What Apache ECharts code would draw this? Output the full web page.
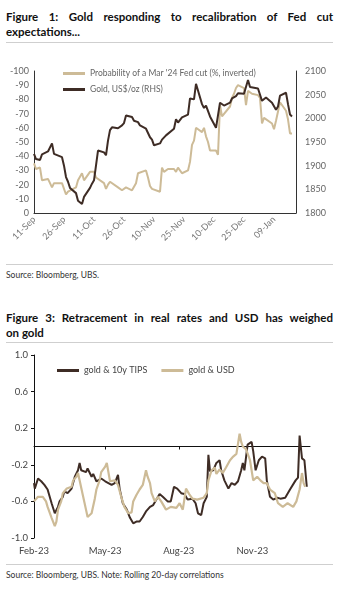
<!DOCTYPE html>
<html><head><meta charset="utf-8">
<script src="https://cdn.jsdelivr.net/npm/echarts@6/dist/echarts.min.js"></script>
<style>
body{margin:0;width:342px;height:595px;background:#fff;font-family:Lato,"Open Sans",sans-serif;position:relative;overflow:hidden}
.t{position:absolute;left:6px;width:327px;font-weight:bold;font-size:11.5px;line-height:15px;color:#111}
.t .l1{text-align:justify;text-align-last:justify;white-space:normal}
.t .l2{text-align:left}
.rule{position:absolute;left:6px;width:327px;height:1px;background:#cfcfcf}
.src{position:absolute;left:6px;font-size:8.5px;color:#333;white-space:nowrap}
#c1{position:absolute;left:0;top:44px;width:342px;height:218px}
#c2{position:absolute;left:0;top:344px;width:342px;height:220px}
</style></head>
<body>
<div class="t" style="top:9px"><div class="l1">Figure 1: Gold responding to recalibration of Fed cut</div><div class="l2">expectations...</div></div>
<div class="rule" style="top:42px"></div>
<div id="c1"></div>
<div class="rule" style="top:264px"></div>
<div class="src" style="top:270px">Source: Bloomberg, UBS.</div>
<div class="t" style="top:310px"><div class="l1">Figure 3: Retracement in real rates and USD has weighed</div><div class="l2">on gold</div></div>
<div class="rule" style="top:342px"></div>
<div id="c2"></div>
<div class="rule" style="top:564px"></div>
<div class="src" style="top:570px">Source: Bloomberg, UBS. Note: Rolling 20-day correlations</div>
<script>
const MONTHS = ['Jan','Feb','Mar','Apr','May','Jun','Jul','Aug','Sep','Oct','Nov','Dec'];
const pad = n => (n < 10 ? '0' : '') + n;

// ---------- Figure 1 ----------
const fig1Start = [2023, 8, 11];
const fig1Days = 132;
const fig1Categories = [];
for (let i = 0; i < fig1Days; i++) {
  const d = new Date(Date.UTC(fig1Start[0], fig1Start[1], fig1Start[2] + i));
  fig1Categories.push(pad(d.getUTCDate()) + '-' + MONTHS[d.getUTCMonth()]);
}
const fig1LeftTicks = { min: -100, max: 0, step: 10 };
const fig1RightTicks = { min: 1800, max: 2100, step: 50 };
const probName = "Probability of a Mar '24 Fed cut (%, inverted)";
const goldName = 'Gold, US$/oz (RHS)';

const probMar24 = [
 ['11-Sep',-35],['12-Sep',-31],['13-Sep',-30],['14-Sep',-32],['15-Sep',-23],['18-Sep',-24],['19-Sep',-25],['20-Sep',-18],['21-Sep',-21],['22-Sep',-21],
 ['25-Sep',-21],['26-Sep',-21],['27-Sep',-13],['28-Sep',-15],['29-Sep',-14],['02-Oct',-18],['03-Oct',-23],['04-Oct',-24],['05-Oct',-28],['06-Oct',-23],
 ['09-Oct',-29],['10-Oct',-30],['11-Oct',-29],['12-Oct',-25],['13-Oct',-24],['16-Oct',-21],['17-Oct',-17],['18-Oct',-20],['19-Oct',-22],['20-Oct',-21],
 ['23-Oct',-18],['24-Oct',-17],['25-Oct',-16],['26-Oct',-17],['27-Oct',-18],['30-Oct',-16],['31-Oct',-17],['01-Nov',-21],['02-Nov',-28],['03-Nov',-29],
 ['06-Nov',-30],['07-Nov',-25],['08-Nov',-19],['09-Nov',-17],['10-Nov',-16],['13-Nov',-15],['14-Nov',-32],['15-Nov',-29],['16-Nov',-30],['17-Nov',-31],
 ['20-Nov',-31],['21-Nov',-29],['22-Nov',-32],['23-Nov',-31],['24-Nov',-28],['27-Nov',-30],['28-Nov',-36],['29-Nov',-48],['30-Nov',-51],['01-Dec',-60],
 ['04-Dec',-57],['05-Dec',-60],['06-Dec',-54],['07-Dec',-50],['08-Dec',-44],['11-Dec',-44],['12-Dec',-41],['13-Dec',-76],['14-Dec',-68],['15-Dec',-68],
 ['18-Dec',-75],['19-Dec',-81],['20-Dec',-84],['21-Dec',-88],['22-Dec',-90],['25-Dec',-88],['26-Dec',-76],['27-Dec',-86],['28-Dec',-85],['29-Dec',-84],
 ['01-Jan',-83],['02-Jan',-81],['03-Jan',-63],['04-Jan',-67],['05-Jan',-66],['08-Jan',-63],['09-Jan',-59],['10-Jan',-65],['11-Jan',-66],['12-Jan',-78],
 ['15-Jan',-72],['16-Jan',-66],['17-Jan',-56],['18-Jan',-56]
];
const goldPrice = [
 ['11-Sep',1925],['12-Sep',1914],['13-Sep',1911],['14-Sep',1912],['15-Sep',1924],['18-Sep',1930],['19-Sep',1932],['20-Sep',1947],['21-Sep',1925],['22-Sep',1926],
 ['25-Sep',1918],['26-Sep',1900],['27-Sep',1876],['28-Sep',1866],['29-Sep',1853],['02-Oct',1842],['03-Oct',1826],['04-Oct',1822],['05-Oct',1819],['06-Oct',1834],
 ['09-Oct',1853],['10-Oct',1862],['11-Oct',1869],['12-Oct',1872],['13-Oct',1932],['16-Oct',1928],['17-Oct',1922],['18-Oct',1953],['19-Oct',1975],['20-Oct',1981],
 ['23-Oct',1979],['24-Oct',1980],['25-Oct',1985],['26-Oct',1990],['27-Oct',2006],['30-Oct',2003],['31-Oct',1995],['01-Nov',1991],['02-Nov',1992],['03-Nov',1985],
 ['06-Nov',1978],['07-Nov',1974],['08-Nov',1960],['09-Nov',1955],['10-Nov',1943],['13-Nov',1947],['14-Nov',1955],['15-Nov',1953],['16-Nov',1964],['17-Nov',1964],
 ['20-Nov',1978],['21-Nov',1998],['22-Nov',1991],['23-Nov',1993],['24-Nov',2002],['27-Nov',2008],['28-Nov',2042],['29-Nov',2044],['30-Nov',2040],['01-Dec',2073],
 ['04-Dec',2030],['05-Dec',2022],['06-Dec',2027],['07-Dec',2025],['08-Dec',2004],['11-Dec',1980],['12-Dec',1981],['13-Dec',2033],['14-Dec',2030],['15-Dec',2027],
 ['18-Dec',2033],['19-Dec',2042],['20-Dec',2040],['21-Dec',2047],['22-Dec',2053],['25-Dec',2052],['26-Dec',2055],['27-Dec',2081],['28-Dec',2066],['29-Dec',2063],
 ['01-Jan',2063],['02-Jan',2062],['03-Jan',2037],['04-Jan',2041],['05-Jan',2044],['08-Jan',2033],['09-Jan',2030],['10-Jan',2018],['11-Jan',2025],['12-Jan',2048],
 ['15-Jan',2054],['16-Jan',2030],['17-Jan',2008],['18-Jan',2004]
];

// ---------- Figure 3 ----------
const fig3Start = [2023, 1, 1];
const fig3Days = 346;
const fig3Categories = [];
for (let i = 0; i < fig3Days; i++) {
  const d = new Date(Date.UTC(fig3Start[0], fig3Start[1], fig3Start[2] + i));
  fig3Categories.push(d.getUTCFullYear() + '-' + pad(d.getUTCMonth() + 1) + '-' + pad(d.getUTCDate()));
}
const fig3LabelMonths = ['02','05','08','11'];
const fig3YTicks = [-1.0, -0.6, -0.2, 0.2, 0.6, 1.0];
const tipsName = 'gold & 10y TIPS';
const usdName = 'gold & USD';

const goldTips = [
 ['2023-02-01',-0.40],['2023-02-02',-0.46],['2023-02-06',-0.35],['2023-02-10',-0.38],['2023-02-14',-0.42],['2023-02-18',-0.47],['2023-02-23',-0.62],['2023-02-27',-0.73],
 ['2023-03-03',-0.66],['2023-03-05',-0.60],['2023-03-09',-0.55],['2023-03-11',-0.49],['2023-03-15',-0.51],['2023-03-20',-0.46],['2023-03-24',-0.33],['2023-03-28',-0.26],
 ['2023-03-30',-0.18],['2023-04-01',-0.26],['2023-04-03',-0.24],['2023-04-07',-0.28],['2023-04-09',-0.24],['2023-04-14',-0.33],['2023-04-16',-0.30],['2023-04-20',-0.38],
 ['2023-04-22',-0.40],['2023-04-26',-0.35],['2023-05-01',-0.38],['2023-05-05',-0.40],['2023-05-09',-0.42],['2023-05-13',-0.40],['2023-05-17',-0.31],['2023-05-19',-0.46],
 ['2023-05-23',-0.62],['2023-05-28',-0.69],['2023-06-01',-0.78],['2023-06-05',-0.84],['2023-06-09',-0.82],['2023-06-13',-0.82],['2023-06-17',-0.77],['2023-06-21',-0.71],
 ['2023-06-26',-0.66],['2023-06-30',-0.64],['2023-07-04',-0.58],['2023-07-08',-0.52],['2023-07-12',-0.55],['2023-07-14',-0.57],['2023-07-18',-0.60],['2023-07-22',-0.60],
 ['2023-07-26',-0.44],['2023-07-30',-0.46],['2023-08-04',-0.51],['2023-08-08',-0.52],['2023-08-12',-0.58],['2023-08-18',-0.57],['2023-08-22',-0.62],['2023-08-25',-0.73],
 ['2023-08-29',-0.75],['2023-09-01',-0.62],['2023-09-05',-0.55],['2023-09-07',-0.09],['2023-09-09',-0.27],['2023-09-13',-0.26],['2023-09-17',-0.18],['2023-09-21',-0.15],
 ['2023-09-23',-0.26],['2023-09-27',-0.37],['2023-10-02',-0.46],['2023-10-06',-0.40],['2023-10-10',-0.42],['2023-10-14',-0.38],['2023-10-18',-0.26],['2023-10-20',-0.18],
 ['2023-10-22',-0.26],['2023-10-26',0.02],['2023-10-31',0.05],['2023-11-02',-0.05],['2023-11-05',-0.26],['2023-11-09',-0.15],['2023-11-13',-0.11],['2023-11-17',-0.13],
 ['2023-11-19',-0.37],['2023-11-23',-0.55],['2023-11-27',-0.58],['2023-12-02',-0.56],['2023-12-06',-0.57],['2023-12-12',-0.56],['2023-12-18',-0.47],['2023-12-25',-0.37],
 ['2023-12-28',-0.34],['2023-12-30',0.12],['2024-01-02',-0.13],['2024-01-05',-0.15],['2024-01-08',-0.44]
];
const goldUsd = [
 ['2023-02-01',-0.60],['2023-02-06',-0.55],['2023-02-12',-0.55],['2023-02-16',-0.60],['2023-02-18',-0.66],['2023-02-23',-0.78],['2023-02-27',-0.87],['2023-03-01',-0.82],
 ['2023-03-03',-0.69],['2023-03-07',-0.60],['2023-03-09',-0.51],['2023-03-14',-0.46],['2023-03-15',-0.48],['2023-03-20',-0.44],['2023-03-22',-0.37],['2023-03-26',-0.33],
 ['2023-03-28',-0.29],['2023-03-30',-0.37],['2023-04-03',-0.53],['2023-04-07',-0.69],['2023-04-09',-0.77],['2023-04-14',-0.73],['2023-04-18',-0.57],['2023-04-20',-0.47],
 ['2023-04-24',-0.37],['2023-04-26',-0.28],['2023-05-01',-0.22],['2023-05-03',-0.18],['2023-05-05',-0.28],['2023-05-07',-0.38],['2023-05-09',-0.40],['2023-05-13',-0.37],
 ['2023-05-17',-0.42],['2023-05-21',-0.55],['2023-05-25',-0.66],['2023-05-30',-0.73],['2023-06-03',-0.72],['2023-06-05',-0.60],['2023-06-09',-0.53],['2023-06-13',-0.47],
 ['2023-06-17',-0.42],['2023-06-21',-0.26],['2023-06-23',-0.33],['2023-06-26',-0.40],['2023-06-28',-0.51],['2023-07-02',-0.60],['2023-07-06',-0.55],['2023-07-10',-0.60],
 ['2023-07-16',-0.69],['2023-07-22',-0.66],['2023-07-29',-0.67],['2023-08-02',-0.62],['2023-08-06',-0.69],['2023-08-10',-0.46],['2023-08-14',-0.52],['2023-08-18',-0.57],
 ['2023-08-24',-0.58],['2023-09-01',-0.56],['2023-09-05',-0.51],['2023-09-07',-0.37],['2023-09-11',-0.26],['2023-09-15',-0.23],['2023-09-17',-0.30],['2023-09-21',-0.25],
 ['2023-09-25',-0.29],['2023-09-29',-0.23],['2023-10-04',-0.15],['2023-10-08',-0.11],['2023-10-12',-0.08],['2023-10-16',0.14],['2023-10-18',0.05],['2023-10-20',0.00],
 ['2023-10-24',-0.03],['2023-10-29',-0.15],['2023-11-02',-0.37],['2023-11-07',-0.33],['2023-11-11',-0.37],['2023-11-15',-0.40],['2023-11-19',-0.40],['2023-11-23',-0.47],
 ['2023-11-29',-0.51],['2023-12-03',-0.62],['2023-12-09',-0.66],['2023-12-15',-0.62],['2023-12-22',-0.66],['2023-12-26',-0.60],['2023-12-30',-0.47],['2024-01-02',-0.29],
 ['2024-01-04',-0.40],['2024-01-06',-0.44]
];

const TAN = '#cdbb97';
const DARK = '#3e2c25';
const FONT = 'Lato';

const c1 = echarts.init(document.getElementById('c1'));
c1.setOption({
  animation: false,
  textStyle: { fontFamily: FONT },
  grid: { left: 34, right: 46, top: 27, bottom: 49 },
  legend: {
    orient: 'vertical', left: 58, top: 20, icon: 'rect', itemWidth: 22, itemHeight: 3, itemGap: 7,
    textStyle: { fontSize: 8.5, color: '#666', fontFamily: FONT },
    data: [probName, goldName]
  },
  xAxis: {
    type: 'category', data: fig1Categories, boundaryGap: false,
    axisLine: { lineStyle: { color: '#333', width: 1 } }, axisTick: { show: false },
    axisLabel: { interval: 14, rotate: 45, fontSize: 9, color: '#777', margin: 5 }
  },
  yAxis: [
    { type: 'value', inverse: true, min: fig1LeftTicks.min, max: fig1LeftTicks.max, interval: fig1LeftTicks.step,
      axisLine: { show: true, lineStyle: { color: '#333' } }, axisTick: { show: false }, splitLine: { show: false },
      axisLabel: { fontSize: 9, color: '#666', margin: 5 } },
    { type: 'value', position: 'right', min: fig1RightTicks.min, max: fig1RightTicks.max, interval: fig1RightTicks.step,
      axisLine: { show: true, lineStyle: { color: '#333' } }, axisTick: { show: false }, splitLine: { show: false },
      axisLabel: { fontSize: 9, color: '#666', margin: 9, formatter: v => String(v) } }
  ],
  series: [
    { name: probName, type: 'line', yAxisIndex: 0, data: probMar24, showSymbol: false, symbol: 'none',
      lineStyle: { width: 2, color: TAN }, itemStyle: { color: TAN } },
    { name: goldName, type: 'line', yAxisIndex: 1, data: goldPrice, showSymbol: false, symbol: 'none',
      lineStyle: { width: 2, color: DARK }, itemStyle: { color: DARK } }
  ]
});

const isQuarterLabel = (idx, val) => val.slice(8) === '01' && fig3LabelMonths.indexOf(val.slice(5, 7)) >= 0;
const c2 = echarts.init(document.getElementById('c2'));
c2.setOption({
  animation: false,
  textStyle: { fontFamily: FONT },
  grid: { left: 34, right: 32, top: 11, bottom: 26 },
  legend: {
    left: 52, top: 17, icon: 'rect', itemWidth: 22, itemHeight: 3, itemGap: 14,
    textStyle: { fontSize: 9, color: '#444', fontFamily: FONT },
    data: [tipsName, usdName]
  },
  xAxis: [
    { type: 'category', data: fig3Categories, boundaryGap: false,
      axisLine: { show: false, onZero: false }, axisTick: { show: false },
      axisLabel: { interval: isQuarterLabel, fontSize: 9.5, color: '#444', margin: 8,
        formatter: v => MONTHS[parseInt(v.slice(5, 7), 10) - 1] + '-' + v.slice(2, 4) } },
    { type: 'category', data: fig3Categories, boundaryGap: false, position: 'bottom',
      axisLine: { show: true, onZero: true, lineStyle: { color: '#111', width: 1 } },
      axisTick: { show: true, interval: isQuarterLabel, length: 3, lineStyle: { color: '#111' } },
      axisLabel: { show: false } }
  ],
  yAxis: {
    type: 'value', min: -1, max: 1,
    axisLine: { show: true, onZero: false, lineStyle: { color: '#111' } },
    axisTick: { show: true, length: 3, customValues: fig3YTicks, lineStyle: { color: '#111' } },
    splitLine: { show: false },
    axisLabel: { customValues: fig3YTicks, fontSize: 9.5, color: '#444', margin: 6, formatter: v => v.toFixed(1) }
  },
  series: [
    { name: tipsName, type: 'line', xAxisIndex: 0, data: goldTips, showSymbol: false, symbol: 'none',
      lineStyle: { width: 2, color: DARK }, itemStyle: { color: DARK } },
    { name: usdName, type: 'line', xAxisIndex: 0, data: goldUsd, showSymbol: false, symbol: 'none',
      lineStyle: { width: 2.2, color: TAN }, itemStyle: { color: TAN } }
  ]
});
</script>
</body></html>
